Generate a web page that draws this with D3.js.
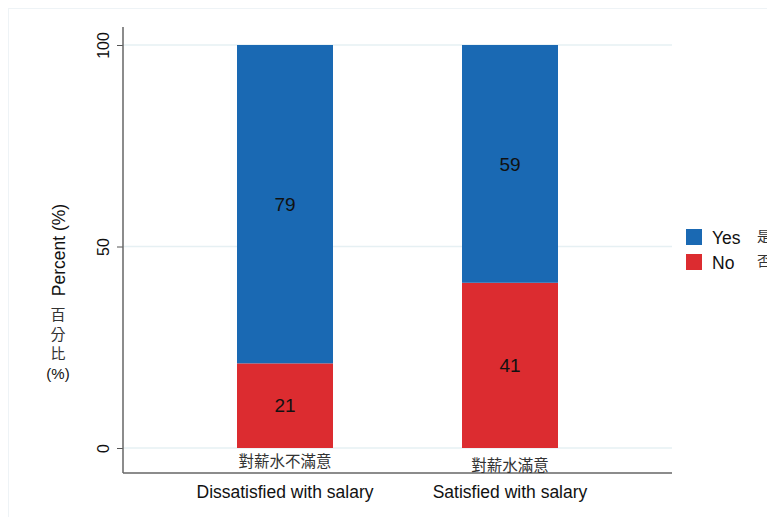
<!DOCTYPE html>
<html>
<head>
<meta charset="utf-8">
<script src="https://cdn.jsdelivr.net/npm/d3@7"></script>
<style>
  body { margin: 0; background: #fff; }
  text { font-family: "Liberation Sans", Arial, sans-serif; fill: #111; }
  .cjk { font-family: "Noto Sans CJK TC", "Noto Sans CJK SC", sans-serif; fill: #333; }
</style>
</head>
<body>
<div class="chart"></div>
<script>
const w = 767;
const h = 517;

// data
const categories = ["Dissatisfied with salary", "Satisfied with salary"];
const categoriesZh = ["對薪水不滿意", "對薪水滿意"];
const yesValues = [79, 59];
const noValues = [21, 41];
const yTicks = [0, 50, 100];
const legendLabels = ["Yes", "No"];
const legendLabelsZh = ["是", "否"];

const colors = ["#1a69b3", "#dc2c30"];

const svg = d3.select(".chart").append("svg")
    .attr("width", w)
    .attr("height", h);

// faint outer frame
svg.append("rect")
    .attr("x", 8.5).attr("y", 8.5)
    .attr("width", w).attr("height", h)
    .attr("fill", "none")
    .attr("stroke", "#eef3f6");

const plot = {left: 123, right: 672, top: 27, bottom: 473};

const y = d3.scaleLinear()
    .domain([0, 100])
    .range([448, 45]);

// bar centers
const xc = d3.scalePoint()
    .domain(categories)
    .range([285, 510]);
const barW = 96;

// gridlines
svg.append("g")
  .selectAll("line")
  .data(yTicks)
  .join("line")
    .attr("x1", plot.left)
    .attr("x2", plot.right)
    .attr("y1", d => y(d))
    .attr("y2", d => y(d))
    .attr("stroke", "#e6f0f3")
    .attr("stroke-width", 1.5);

// stacked bars
const rows = categories.map((c, i) => ({cat: c, Yes: yesValues[i], No: noValues[i]}));
const stack = d3.stack().keys(["No", "Yes"])(rows);

svg.append("g")
  .selectAll("g")
  .data(stack)
  .join("g")
    .attr("fill", d => d.key === "Yes" ? colors[0] : colors[1])
  .selectAll("rect")
  .data(d => d)
  .join("rect")
    .attr("x", d => xc(d.data.cat) - barW / 2)
    .attr("width", barW)
    .attr("y", d => y(d[1]))
    .attr("height", d => y(d[0]) - y(d[1]));

// value labels
svg.append("g")
  .selectAll("g")
  .data(stack)
  .join("g")
  .selectAll("text")
  .data(d => d.map(s => ({s: s, key: d.key})))
  .join("text")
    .attr("x", d => xc(d.s.data.cat))
    .attr("y", d => (y(d.s[0]) + y(d.s[1])) / 2)
    .attr("dy", "0.35em")
    .attr("text-anchor", "middle")
    .attr("font-size", 19)
    .text(d => d.s.data[d.key]);

// y axis
const yAxis = svg.append("g")
    .attr("transform", `translate(${plot.left},0)`)
    .call(d3.axisLeft(y).tickValues(yTicks).tickSize(6).tickPadding(5));
yAxis.select(".domain").remove();
yAxis.selectAll(".tick line").attr("stroke", "#555");
yAxis.selectAll(".tick text")
    .attr("font-size", 16)
    .attr("fill", "#111")
    .attr("transform", "rotate(-90)")
    .attr("x", 0)
    .attr("dy", 0)
    .attr("y", -14)
    .attr("text-anchor", "middle");

svg.append("line")
    .attr("x1", plot.left).attr("x2", plot.left)
    .attr("y1", plot.top).attr("y2", plot.bottom)
    .attr("stroke", "#666").attr("stroke-width", 1.5);

// x axis line
svg.append("line")
    .attr("x1", plot.left).attr("x2", plot.right)
    .attr("y1", plot.bottom).attr("y2", plot.bottom)
    .attr("stroke", "#666").attr("stroke-width", 1.5);

// category labels
svg.append("g")
  .selectAll("text")
  .data(categories)
  .join("text")
    .attr("x", d => xc(d))
    .attr("y", 498)
    .attr("text-anchor", "middle")
    .attr("font-size", 17.5)
    .text(d => d);

svg.append("g")
  .selectAll("text")
  .data(categoriesZh)
  .join("text")
    .attr("class", "cjk")
    .attr("x", (d, i) => xc(categories[i]))
    .attr("y", (d, i) => i === 0 ? 467 : 471)
    .attr("text-anchor", "middle")
    .attr("font-size", 15.5)
    .text(d => d);

// y axis title
svg.append("text")
    .attr("transform", "translate(65,250) rotate(-90)")
    .attr("text-anchor", "middle")
    .attr("font-size", 17.5)
    .text("Percent (%)");

const zhTitle = ["百", "分", "比", "(%)"];
svg.append("g")
  .selectAll("text")
  .data(zhTitle)
  .join("text")
    .attr("class", (d, i) => i < 3 ? "cjk" : null)
    .attr("x", 58)
    .attr("y", (d, i) => 320 + i * 19.5)
    .attr("text-anchor", "middle")
    .attr("font-size", 15)
    .attr("fill", "#333")
    .text(d => d);

// legend
const legend = svg.append("g")
  .selectAll("g")
  .data(legendLabels)
  .join("g")
    .attr("transform", (d, i) => `translate(686,${229 + i * 25})`);

legend.append("rect")
    .attr("width", 16).attr("height", 16)
    .attr("fill", (d, i) => colors[i]);

legend.append("text")
    .attr("x", 26).attr("y", 15)
    .attr("font-size", 17.5)
    .text(d => d);

legend.append("text")
    .attr("class", "cjk")
    .attr("x", 71).attr("y", 12)
    .attr("font-size", 14)
    .text((d, i) => legendLabelsZh[i]);
</script>
</body>
</html>
